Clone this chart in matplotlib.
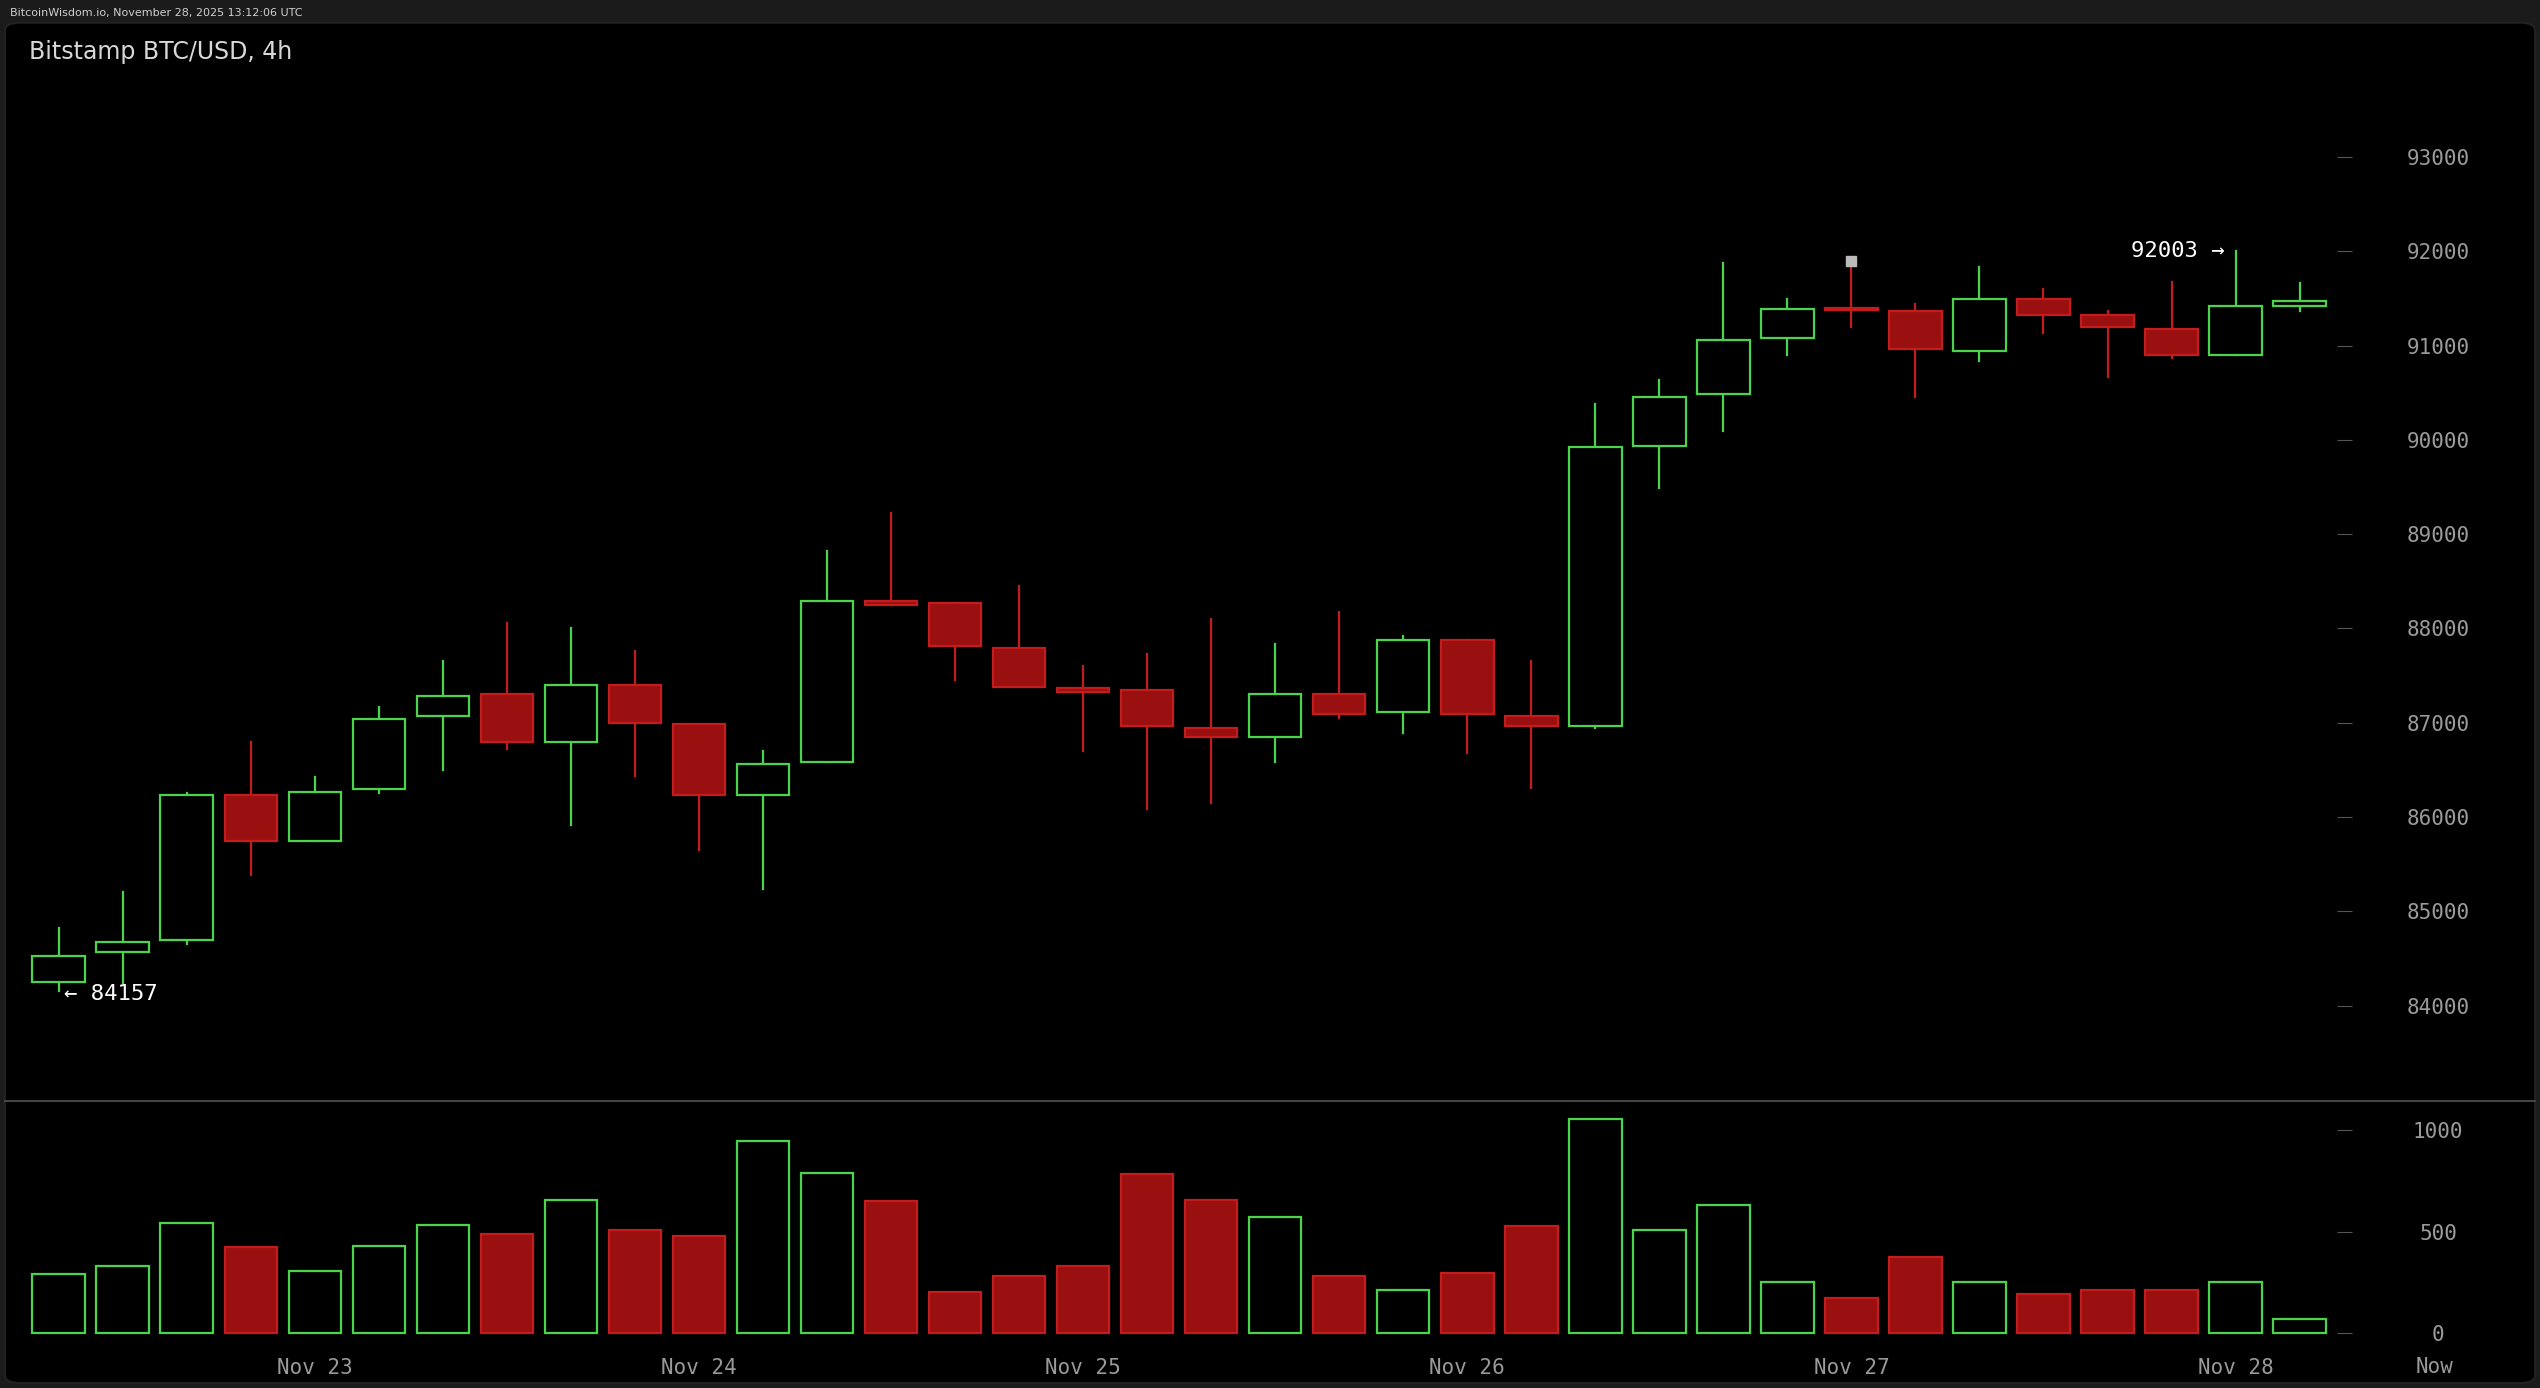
import matplotlib.pyplot as plt
from matplotlib.patches import Rectangle, FancyBboxPatch

# 4h candles, Nov 22 08:00 UTC onwards
opens = [84250, 84570, 84700, 86230, 85750, 86300, 87070, 87300, 86800, 87400, 86990, 86230,
         86580, 88290, 88270, 87790, 87370, 87350, 86940, 86850, 87310, 87110, 87880, 87070,
         86970, 89940, 90490, 91080, 91400, 91370, 90940, 91490, 91320, 91180, 90900, 91420]
highs = [84820, 85200, 86260, 86800, 86420, 87170, 87650, 88060, 88000, 87760, 86990, 86700,
         88820, 89220, 88270, 88450, 87600, 87730, 88100, 87840, 88180, 87920, 87880, 87660,
         90380, 90640, 91880, 91500, 91880, 91440, 91830, 91600, 91370, 91680, 92003, 91660]
lows = [84157, 84240, 84650, 85380, 85750, 86250, 86500, 86720, 85920, 86440, 85650, 85240,
        86580, 88250, 87450, 87380, 86700, 86080, 86150, 86580, 87050, 86890, 86680, 86310,
        86940, 89490, 90100, 90900, 91200, 90460, 90840, 91130, 90670, 90870, 90900, 91370]
closes = [84530, 84670, 86230, 85750, 86270, 87040, 87280, 86800, 87400, 87000, 86230, 86560,
          88290, 88250, 87810, 87380, 87330, 86970, 86850, 87310, 87090, 87880, 87090, 86970,
          89930, 90460, 91060, 91390, 91380, 90960, 91490, 91330, 91200, 90900, 91420, 91470]
volumes = [290, 330, 545, 425, 305, 430, 535, 490, 655, 510, 480, 950,
           790, 650, 200, 280, 330, 785, 655, 575, 280, 210, 295, 530,
           1055, 510, 630, 250, 175, 375, 250, 190, 210, 210, 250, 70]
day_labels = ["Nov 23", "Nov 24", "Nov 25", "Nov 26", "Nov 27", "Nov 28"]
day_index = [4, 10, 16, 22, 28, 34]
price_ticks = [84000, 85000, 86000, 87000, 88000, 89000, 90000, 91000, 92000, 93000]
vol_ticks = [0, 500, 1000]

GREEN = "#4bd44b"
RED_FILL = "#9a1010"
RED_EDGE = "#c41c1c"
GRAY = "#9a9a9a"

W, H = 1568.0, 857.0
fig = plt.figure(figsize=(25.4, 13.88), dpi=100, facecolor="#1b1b1b")

panel = FancyBboxPatch((3 / W, 3 / H), 1 - 6 / W, 1 - 17 / H, boxstyle="round,pad=0,rounding_size=0.006",
                       transform=fig.transFigure, facecolor="black", edgecolor="#222222", lw=1.5,
                       zorder=-10)
fig.patches.append(panel)
fig.text(6 / W, 1 - 8 / H, "BitcoinWisdom.io, November 28, 2025 13:12:06 UTC", color="#cfcfcf",
         fontsize=8, va="center", family="DejaVu Sans")

def fx(px):
    return px / W

def fy(py):
    return 1 - py / H

ax = fig.add_axes([fx(5), fy(680), fx(1452) - fx(5), fy(15) - fy(680)])
axv = fig.add_axes([fx(5), fy(835), fx(1452) - fx(5), fy(680) - fy(835)], sharex=ax)

for a in (ax, axv):
    a.set_facecolor("none")
    for s in a.spines.values():
        s.set_visible(False)
    a.yaxis.tick_right()
    a.tick_params(axis="y", direction="in", length=11, color="#555555", labelcolor=GRAY,
                  labelsize=15, pad=62)

n = len(opens)
bw = 0.82
for i in range(n):
    o, h, l, c = opens[i], highs[i], lows[i], closes[i]
    up = c >= o
    col = GREEN if up else RED_EDGE
    ax.plot([i, i], [l, h], color=col, lw=1.6, zorder=1)
    bot, top = min(o, c), max(o, c)
    ht = max(top - bot, 20)
    ax.add_patch(Rectangle((i - bw / 2, bot), bw, ht, facecolor="black" if up else RED_FILL,
                           edgecolor=col, lw=1.6, zorder=2))
    axv.add_patch(Rectangle((i - bw / 2, 0), bw, volumes[i], facecolor="black" if up else RED_FILL,
                            edgecolor=col, lw=1.6))

# marker on the top of candle 29
ax.plot([28], [91900], marker="s", ms=7, color="#bbbbbb", zorder=3)

ax.set_xlim(-0.79, 35.82)
ax.set_ylim(82984, 94409)
axv.set_ylim(-96, 1144)
ax.set_yticks(price_ticks)
ax.set_yticklabels([str(t) for t in price_ticks], family="DejaVu Sans Mono", ha="center")
axv.set_yticks(vol_ticks)
axv.set_yticklabels([str(t) for t in vol_ticks], family="DejaVu Sans Mono", ha="center")
ax.tick_params(axis="x", bottom=False, labelbottom=False)
axv.set_xticks(day_index)
axv.set_xticklabels(day_labels, family="DejaVu Sans Mono")
axv.tick_params(axis="x", length=0, labelcolor=GRAY, labelsize=15, pad=4)

hi_i = highs.index(max(highs))
lo_i = lows.index(min(lows))
ax.annotate(f"{max(highs)} \u2192", (hi_i, max(highs)), xytext=(-8, 0), textcoords="offset points",
            ha="right", va="center", color="white", fontsize=16, family="DejaVu Sans Mono")
ax.annotate(f"\u2190 {min(lows)}", (lo_i, min(lows)), xytext=(4, -2), textcoords="offset points",
            ha="left", va="center", color="white", fontsize=16, family="DejaVu Sans Mono")

fig.text(fx(18), fy(32), "Bitstamp BTC/USD, 4h", color="#d8d8d8", fontsize=17, va="center")
fig.text(fx(1503), fy(844), "Now", color=GRAY, fontsize=15, ha="center", va="center",
         family="DejaVu Sans Mono")
fig.add_artist(plt.Line2D([fx(3), fx(1565)], [fy(680), fy(680)], transform=fig.transFigure,
                          color="#444444", lw=1.5))

fig.savefig("out.png", dpi=100, facecolor=fig.get_facecolor())
